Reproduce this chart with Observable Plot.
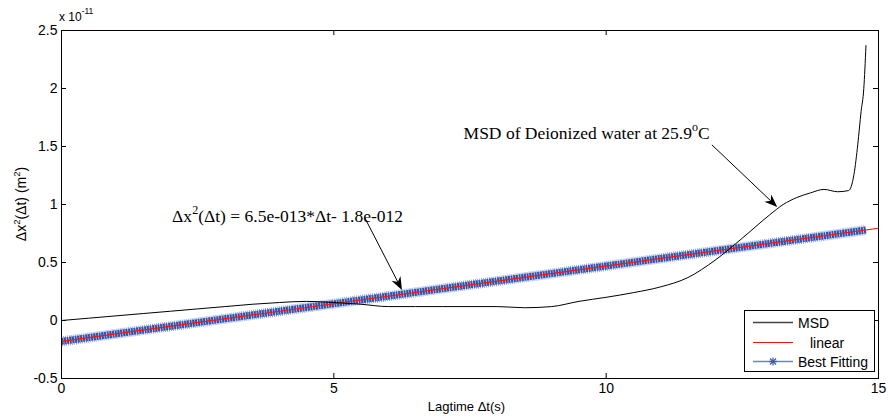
<!DOCTYPE html>
<html><head><meta charset="utf-8">
<script src="https://cdn.jsdelivr.net/npm/d3@7"></script>
<script src="https://cdn.jsdelivr.net/npm/@observablehq/plot@0.6"></script>
<style>
body{margin:0;background:#fff;}
#chart{width:888px;height:418px;position:relative;}
</style></head><body><div id="chart"></div>
<script>
// MSD curve (values in units of 1e-11 m^2)
const msdT = [0, 0.5, 1, 1.5, 2, 2.5, 3, 3.5, 4, 4.5, 5, 5.5, 6, 6.5, 7, 7.5, 8, 8.5, 9, 9.5, 10, 10.5, 11, 11.5, 12, 12.5, 13, 13.25, 13.5, 13.75, 14, 14.25, 14.45, 14.55, 14.62, 14.68, 14.73, 14.77];
const msdY = [0, 0.02, 0.04, 0.06, 0.08, 0.1, 0.12, 0.14, 0.155, 0.165, 0.155, 0.14, 0.12, 0.12, 0.12, 0.12, 0.12, 0.11, 0.12, 0.165, 0.2, 0.24, 0.29, 0.37, 0.52, 0.71, 0.91, 1.0, 1.06, 1.1, 1.13, 1.11, 1.12, 1.26, 1.52, 1.8, 2.0, 2.37];
// Best fitting band (end points) and linear fit line
const fitT = [0, 14.77];
const fitY = [-0.18, 0.78];
const linT = [0, 15];
const linY = [-0.18, 0.795];
// ticks
const xTicks = [0, 5, 10, 15];
const yTicks = [-0.5, 0, 0.5, 1, 1.5, 2, 2.5];
const xDomain = [0, 15];
const yDomain = [-0.5, 2.5];
// annotations
const noteX = [2.04, 11.91];
const noteY = [0.845, 1.56];
const arrowX1 = [5.58, 11.95];
const arrowY1 = [0.879, 1.51];
const arrowX2 = [6.26, 13.15];
const arrowY2 = [0.259, 0.974];
const legendLabels = ["MSD", "linear", "Best Fitting"];

const msd = msdT.map((t, i) => ({t, y: msdY[i]}));
const fit = fitT.map((t, i) => ({t, y: fitY[i]}));
const lin = linT.map((t, i) => ({t, y: linY[i]}));

const W = 888, H = 418, mL = 61, mR = 10, mT = 30, mB = 40;
const fw = W - mL - mR, fh = H - mT - mB, tk = 5;
const sans = "'Liberation Sans', Arial, sans-serif";
const serif = "'Liberation Serif', 'Times New Roman', serif";

const chart = Plot.plot({
  width: W, height: H,
  marginLeft: mL, marginRight: mR, marginTop: mT, marginBottom: mB,
  style: {fontFamily: sans, fontSize: "14px", color: "#000", background: "#fff", overflow: "visible"},
  x: {domain: xDomain},
  y: {domain: yDomain},
  marks: [
    Plot.line(fit, {x: "t", y: "y", stroke: "#93a9dc", strokeWidth: 10, strokeDasharray: "1,1", strokeLinecap: "butt"}),
    Plot.line(fit, {x: "t", y: "y", stroke: "#3352a8", strokeWidth: 7, strokeDasharray: "2,0.7", strokeLinecap: "butt"}),
    Plot.line(lin, {x: "t", y: "y", stroke: "#ff1010", strokeWidth: 1.2, strokeLinecap: "butt"}),
    Plot.line(msd, {x: "t", y: "y", stroke: "#000", strokeWidth: 1, curve: "monotone-x"}),
    Plot.frame({stroke: "#000", strokeWidth: 1}),
    Plot.ruleX(xTicks, {x: d => d, insetTop: fh - tk, stroke: "#000"}),
    Plot.ruleX(xTicks, {x: d => d, insetBottom: fh - tk, stroke: "#000"}),
    Plot.ruleY(yTicks, {y: d => d, insetRight: fw - tk, stroke: "#000"}),
    Plot.ruleY(yTicks, {y: d => d, insetLeft: fw - tk, stroke: "#000"}),
    Plot.axisX({ticks: xTicks, tickSize: 0, tickPadding: 5, tickFormat: d => String(d), label: null, fontSize: 14}),
    Plot.axisY({ticks: yTicks, tickSize: 0, tickPadding: 4, tickFormat: d => String(d), label: null, fontSize: 14})
  ]
});
document.getElementById("chart").append(chart);

const svg = d3.select(chart.tagName.toLowerCase() === "svg" ? chart : chart.querySelector("svg"));
const X = chart.scale("x"), Y = chart.scale("y");

// exponent label
const ex = svg.append("text").attr("x", 59).attr("y", 21).attr("text-anchor", "start").attr("font-family", sans).attr("font-size", 12).attr("fill", "#000");
ex.append("tspan").text("x 10");
ex.append("tspan").attr("font-size", 8.5).attr("dy", -7).text("-11");

// y label
const yl = svg.append("text").attr("transform", `translate(26,${mT + fh / 2}) rotate(-90)`).attr("text-anchor", "middle")
  .attr("font-family", sans).attr("font-size", 14).attr("fill", "#000");
yl.append("tspan").text("Δx");
yl.append("tspan").attr("font-size", 9.5).attr("dy", -6).text("2");
yl.append("tspan").attr("dy", 6).text("(Δt) (m");
yl.append("tspan").attr("font-size", 9.5).attr("dy", -6).text("2");
yl.append("tspan").attr("dy", 6).text(")");

// x label
svg.append("text").attr("x", mL + fw / 2 - 3).attr("y", 411).attr("text-anchor", "middle")
  .attr("font-family", sans).attr("font-size", 13).attr("fill", "#000").text("Lagtime Δt(s)");

// annotation texts
const t1 = svg.append("text").attr("x", X.apply(noteX[0])).attr("y", Y.apply(noteY[0])).attr("text-anchor", "start")
  .attr("font-family", serif).attr("font-size", 17.5).attr("fill", "#000");
t1.append("tspan").text("Δx");
t1.append("tspan").attr("font-size", 12).attr("dy", -8).text("2");
t1.append("tspan").attr("dy", 8).text("(Δt) = 6.5e-013*Δt- 1.8e-012");

const t2 = svg.append("text").attr("x", X.apply(noteX[1])).attr("y", Y.apply(noteY[1])).attr("text-anchor", "end")
  .attr("font-family", serif).attr("font-size", 17.5).attr("fill", "#000");
t2.append("tspan").text("MSD of Deionized water at 25.9");
t2.append("tspan").attr("font-size", 12).attr("dy", -8).text("o");
t2.append("tspan").attr("dy", 8).text("C");

// arrows
function arrow(x1, y1, x2, y2) {
  const ax = X.apply(x1), ay = Y.apply(y1), bx = X.apply(x2), by = Y.apply(y2);
  const a = Math.atan2(by - ay, bx - ax);
  const ux = Math.cos(a), uy = Math.sin(a), px = -uy, py = ux;
  const L = 13, Wd = 5, back = 4;
  svg.append("line").attr("x1", ax).attr("y1", ay).attr("x2", bx - ux * (L - back)).attr("y2", by - uy * (L - back))
    .attr("stroke", "#000").attr("stroke-width", 1);
  const pts = [[bx, by], [bx - ux * L + px * Wd, by - uy * L + py * Wd], [bx - ux * (L - back), by - uy * (L - back)], [bx - ux * L - px * Wd, by - uy * L - py * Wd]];
  svg.append("path").attr("d", "M" + pts.map(p => p.join(",")).join("L") + "Z").attr("fill", "#000");
}
arrowX1.forEach((_, i) => arrow(arrowX1[i], arrowY1[i], arrowX2[i], arrowY2[i]));

// legend
const lg = svg.append("g").attr("font-family", sans).attr("font-size", 14).attr("fill", "#000").attr("text-anchor", "start");
lg.append("rect").attr("x", 744.5).attr("y", 310.5).attr("width", 130).attr("height", 61).attr("fill", "#fff").attr("stroke", "#000");
const rowsY = [322.5, 342.5, 361.5];
lg.append("line").attr("x1", 753).attr("x2", 793).attr("y1", rowsY[0]).attr("y2", rowsY[0]).attr("stroke", "#444").attr("stroke-width", 1.3);
lg.append("line").attr("x1", 753).attr("x2", 793).attr("y1", rowsY[1]).attr("y2", rowsY[1]).attr("stroke", "#ff1010").attr("stroke-width", 1);
lg.append("line").attr("x1", 753).attr("x2", 793).attr("y1", rowsY[2]).attr("y2", rowsY[2]).attr("stroke", "#6a84c6").attr("stroke-width", 1.3);
const star = lg.append("g").attr("transform", `translate(773,${rowsY[2]})`).attr("stroke", "#3b59ad").attr("stroke-width", 1.2);
[[0, -4, 0, 4], [-4, 0, 4, 0], [-3, -3, 3, 3], [-3, 3, 3, -3]].forEach(s => star.append("line").attr("x1", s[0]).attr("y1", s[1]).attr("x2", s[2]).attr("y2", s[3]));
lg.append("text").attr("x", 798).attr("y", rowsY[0] + 5).text(legendLabels[0]);
lg.append("text").attr("x", 810).attr("y", rowsY[1] + 5).text(legendLabels[1]);
lg.append("text").attr("x", 798).attr("y", rowsY[2] + 5).text(legendLabels[2]);
</script>
</body></html>
